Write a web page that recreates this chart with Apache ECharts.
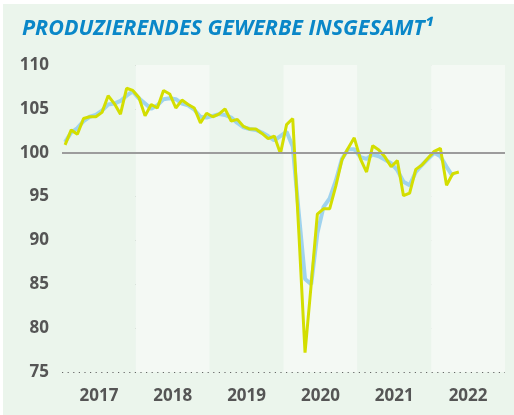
<!DOCTYPE html>
<html>
<head>
<meta charset="utf-8">
<script src="https://cdn.jsdelivr.net/npm/echarts@6/dist/echarts.min.js"></script>
<style>
  html, body { margin: 0; padding: 0; background: #fff; }
  #chart { position: absolute; left: 3px; top: 4px; width: 511px; height: 411px; background: #ebf5ec; }
</style>
</head>
<body>
<div id="chart"></div>
<script>
// years shown on the x axis
const years = ['2017', '2018', '2019', '2020', '2021', '2022'];

// y axis ticks
const yMin = 75;
const yMax = 110;
const yStep = 5;

// index values, monthly from Jan 2017
const monthly = [
  100.9, 102.6, 102.1, 103.9, 104.1, 104.1, 104.6, 106.5, 105.6, 104.4, 107.35, 107.1,
  106.3, 104.2, 105.5, 105.1, 107.1, 106.7, 105.1, 106.0, 105.5, 105.1, 103.4, 104.5,
  104.1, 104.4, 105.0, 103.6, 103.8, 103.0, 102.7, 102.7, 102.2, 101.6, 101.9, 99.9,
  103.2, 103.9, 90.8, 77.2, 85.0, 93.0, 93.6, 93.6, 96.2, 99.2, 100.5, 101.7,
  99.3, 97.8, 100.8, 100.3, 99.5, 98.4, 99.1, 95.1, 95.4, 98.1, 98.6, 99.4,
  100.15, 100.5, 96.3, 97.6, 97.8
];

// smoothed trend (light blue line)
const trend = [
  101.2, 102.3, 102.8, 103.6, 104.1, 104.3, 104.8, 105.5, 105.6, 105.9, 106.5, 107.0,
  106.2, 105.6, 105.0, 105.4, 106.1, 106.2, 106.1, 105.6, 105.4, 104.9, 104.1, 104.0,
  104.2, 104.4, 104.3, 104.0, 103.4, 102.9, 102.7, 102.6, 102.3, 101.9, 101.4, 101.9,
  102.4, 100.7, 93.0, 85.6, 85.0, 90.8, 93.8, 94.8, 96.8, 99.3, 100.4, 100.4,
  99.5, 99.3, 99.8, 99.6, 99.2, 98.8, 98.0, 96.7, 96.3, 97.8, 98.6, 99.3,
  100.0, 99.6, 98.4, 97.3
];

const months = [];
years.forEach(y => { for (let m = 1; m <= 12; m++) months.push(y + '-' + m); });

const chart = echarts.init(document.getElementById('chart'));
chart.setOption({
  animation: false,
  title: {
    text: 'PRODUZIERENDES GEWERBE INSGESAMT¹',
    left: 14,
    top: 9,
    textStyle: {
      fontFamily: 'Open Sans',
      fontStyle: 'italic',
      fontWeight: 'bold',
      fontSize: 21.5,
      color: '#0a87c8'
    }
  },
  grid: { left: 59, right: 9, top: 61, bottom: 43 },
  xAxis: [{
    type: 'category',
    data: years,
    boundaryGap: true,
    axisLine: { show: false },
    axisTick: { show: false },
    axisLabel: {
      margin: 16,
      fontFamily: 'Open Sans',
      fontWeight: 'bold',
      fontSize: 17,
      color: '#555'
    },
    splitArea: { show: true, areaStyle: { color: ['#ebf5ec', '#f4f9f4'] } }
  }, {
    type: 'category',
    data: months,
    boundaryGap: true,
    show: false
  }],
  yAxis: {
    type: 'value',
    min: yMin,
    max: yMax,
    interval: yStep,
    axisLine: { show: false },
    axisTick: { show: false },
    axisLabel: {
      margin: 13,
      fontFamily: 'Open Sans',
      fontWeight: 'bold',
      fontSize: 17,
      color: '#555'
    },
    splitLine: {
      show: true,
      lineStyle: { color: '#666', width: 1, type: [1.2, 4.4] }
    }
  },
  series: [{
    name: 'Trend',
    type: 'line',
    xAxisIndex: 1,
    data: trend,
    showSymbol: false,
    lineStyle: { color: '#9fd3ee', width: 4 },
    z: 2,
    markLine: {
      silent: true,
      symbol: 'none',
      label: { show: false },
      lineStyle: { color: '#9c9c9c', width: 2, type: 'solid' },
      data: [{ yAxis: 100 }]
    }
  }, {
    name: 'Index',
    type: 'line',
    xAxisIndex: 1,
    data: monthly,
    showSymbol: false,
    lineStyle: { color: '#d3de00', width: 3 },
    z: 3
  }]
});
</script>
</body>
</html>
